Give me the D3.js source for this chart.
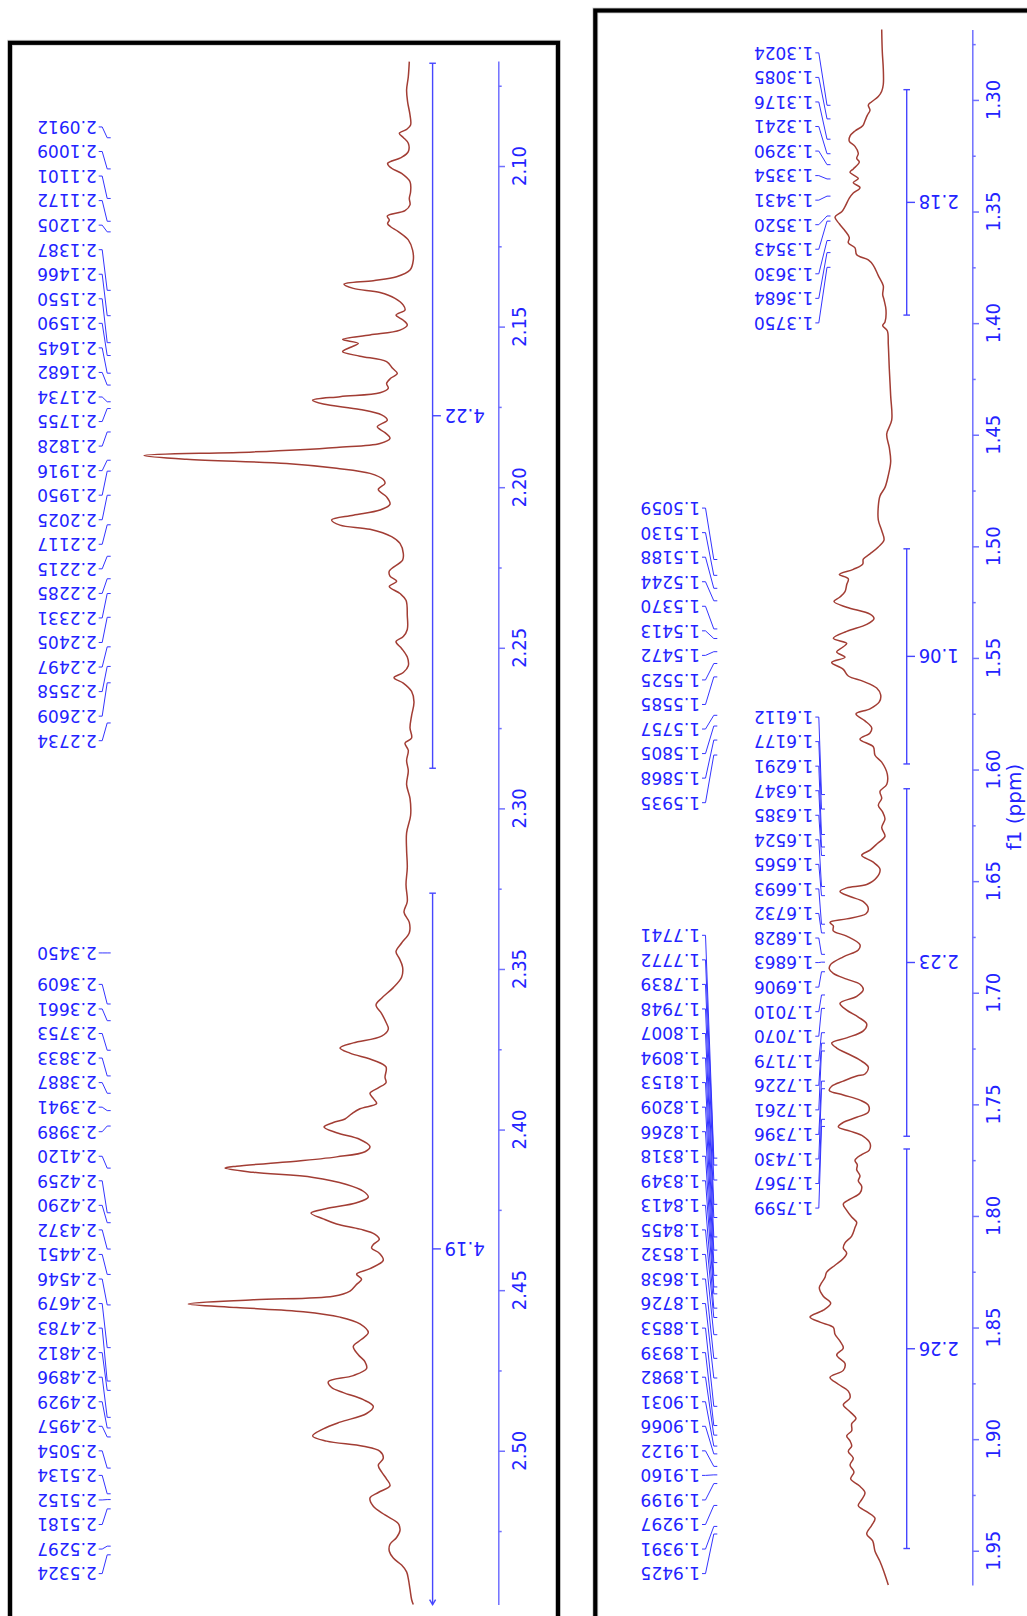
<!DOCTYPE html>
<html>
<head>
<meta charset="utf-8">
<script src="https://cdn.jsdelivr.net/npm/d3@7"></script>
<style>
  body { margin: 0; background: #fff; }
  svg { display: block; }
</style>
</head>
<body>
<div id="chart"></div>
<script>
// ---- data ----
// spectrum traces: [ppm, intensity (arbitrary units)]
const leftSpectrum = [
  [2.0675,-1],[2.0722,0],[2.0763,1.7],[2.0800,0.7],[2.0841,-1.7],[2.0872,-2.3],[2.0886,1.7],[2.0898,9],[2.0911,5],[2.0929,0],
  [2.0955,0],[2.0973,6.7],[2.0992,20.7],[2.1007,16.7],[2.1023,6.7],[2.1049,-1.7],[2.1080,-2.3],[2.1101,-1],[2.1121,-1.7],[2.1139,3.3],
  [2.1156,21],[2.1168,19],[2.1179,20.7],[2.1189,17.7],[2.1204,10],[2.1230,0],[2.1262,-4.3],[2.1293,-5],[2.1324,-1.7],[2.1345,11.7],
  [2.1357,35],[2.1368,64.3],[2.1381,55],[2.1394,28.3],[2.1412,13.3],[2.1433,5],[2.1448,3.3],[2.1464,12.3],[2.1480,5],[2.1495,1],
  [2.1511,8.3],[2.1526,38.3],[2.1540,65.7],[2.1552,50],[2.1565,58.3],[2.1578,65.7],[2.1592,48.3],[2.1609,21.7],[2.1630,15.7],[2.1646,11],
  [2.1661,17.7],[2.1677,21.7],[2.1692,20],[2.1706,28.3],[2.1718,68.3],[2.1729,95.7],[2.1741,85],[2.1758,48.3],[2.1775,26.7],[2.1791,21],
  [2.1812,31],[2.1830,23.3],[2.1848,18.3],[2.1864,28.3],[2.1876,71.7],[2.1890,155],[2.1901,264.3],[2.1913,221.7],[2.1926,121.7],[2.1941,71.7],
  [2.1957,38.3],[2.1976,25],[2.1988,23.3],[2.2007,30],[2.2030,21.7],[2.2053,18.3],[2.2071,28.3],[2.2087,55],[2.2102,76.7],[2.2118,68.3],
  [2.2131,38.3],[2.2154,16.7],[2.2175,8.3],[2.2206,5],[2.2227,5.7],[2.2261,19],[2.2277,18.3],[2.2293,11.7],[2.2309,19],[2.2331,8.3],
  [2.2352,2.3],[2.2400,1],[2.2443,1],[2.2465,5],[2.2481,12.3],[2.2502,6.7],[2.2529,1],[2.2556,0],[2.2577,5],[2.2593,14.3],
  [2.2610,5],[2.2636,-3.3],[2.2669,-5.7],[2.2711,-3.3],[2.2749,-1.7],[2.2781,-3.3],[2.2797,3.3],[2.2819,0],[2.2851,1.7],[2.2883,0],
  [2.2926,1.7],[2.2969,-1.7],[2.3022,-2.3],[2.3076,1.7],[2.3130,1.7],[2.3183,1],[2.3237,2.3],[2.3290,1],[2.3323,4.3],[2.3355,-1],
  [2.3387,-1],[2.3419,6.7],[2.3446,12.3],[2.3467,9],[2.3494,5.7],[2.3526,6.7],[2.3558,15],[2.3591,26.7],[2.3612,32.3],[2.3639,26.7],
  [2.3666,22.3],[2.3687,20],[2.3709,26.7],[2.3730,55],[2.3746,68.3],[2.3762,58.3],[2.3784,35],[2.3805,22.3],[2.3837,23.3],[2.3854,22.3],
  [2.3870,30],[2.3887,38.3],[2.3903,35],[2.3919,31.7],[2.3935,48.3],[2.3951,56.7],[2.3967,63.3],[2.3978,75],[2.3992,84.3],[2.4010,71.7],
  [2.4031,48.3],[2.4053,38.3],[2.4069,43.3],[2.4085,71.7],[2.4101,121.7],[2.4114,171.7],[2.4120,183.3],[2.4133,155],[2.4149,95],[2.4171,61.7],
  [2.4192,45],[2.4210,40],[2.4228,51.7],[2.4246,81.7],[2.4260,97.3],[2.4278,85],[2.4294,71.7],[2.4310,48.3],[2.4326,33.3],[2.4342,29],
  [2.4358,35],[2.4369,36.7],[2.4385,29],[2.4407,25],[2.4433,38.3],[2.4450,51.7],[2.4466,46.7],[2.4482,51.7],[2.4503,58.3],[2.4519,75],
  [2.4530,155],[2.4543,220],[2.4554,171.7],[2.4567,105],[2.4584,68.3],[2.4605,48.3],[2.4632,40],[2.4653,46.7],[2.4675,55],[2.4701,50],
  [2.4723,43.3],[2.4744,41.7],[2.4766,55],[2.4785,80],[2.4803,76.7],[2.4819,65],[2.4841,45],[2.4862,35],[2.4884,41.7],[2.4911,68.3],
  [2.4932,85],[2.4954,95.7],[2.4970,81.7],[2.4986,45],[2.5002,28.3],[2.5023,25],[2.5045,30],[2.5066,26.7],[2.5088,21.7],[2.5109,18.3],
  [2.5130,30],[2.5147,38.3],[2.5173,35],[2.5200,23.3],[2.5227,10],[2.5248,8.3],[2.5270,11.7],[2.5291,18.3],[2.5313,19],[2.5334,15],
  [2.5356,6.7],[2.5377,1.7],[2.5398,0],[2.5431,-1.7],[2.5463,-3.3],[2.5479,-5]
];

const rightSpectrum = [
  [1.2684,8.3],[1.2784,7.7],[1.2861,6.7],[1.2931,6.7],[1.2961,8.3],[1.2985,11.7],[1.3008,18.3],[1.3023,21.7],[1.3046,20],[1.3069,22.7],
  [1.3093,25],[1.3116,27.3],[1.3139,35],[1.3162,40],[1.3185,40.7],[1.3208,35],[1.3239,31.7],[1.3262,33.3],[1.3278,30.7],[1.3309,36.7],
  [1.3324,40],[1.3352,31.7],[1.3370,36.7],[1.3393,30],[1.3417,36.7],[1.3440,40.7],[1.3478,45],[1.3501,48.3],[1.3525,55],[1.3555,50.7],
  [1.3586,45],[1.3617,40.7],[1.3640,41.7],[1.3663,35],[1.3694,33.3],[1.3717,21.7],[1.3741,16.7],[1.3787,11.7],[1.3833,6.7],[1.3872,7.3],
  [1.3895,6],[1.3941,4],[1.3995,5],[1.4011,7.3],[1.4034,2.7],[1.4096,1.7],[1.4204,0.7],[1.4327,-0.7],[1.4435,-1.7],[1.4497,3.3],
  [1.4558,0.7],[1.4620,-0.7],[1.4682,1.7],[1.4736,5],[1.4774,10],[1.4821,11.7],[1.4882,11.7],[1.4929,8.3],[1.4972,6],[1.5003,11.7],
  [1.5034,20],[1.5057,26.7],[1.5080,27.3],[1.5103,36.7],[1.5126,50.7],[1.5145,41.7],[1.5172,43.3],[1.5203,45],[1.5227,50],[1.5247,56],
  [1.5273,43.3],[1.5304,20],[1.5324,16],[1.5350,23.3],[1.5381,43.3],[1.5412,56.7],[1.5435,43.3],[1.5450,46.7],[1.5473,53.3],[1.5497,45],
  [1.5520,58.3],[1.5551,46.7],[1.5581,41.7],[1.5605,26.7],[1.5635,13.3],[1.5666,9.3],[1.5697,10.7],[1.5728,20],[1.5751,34],[1.5782,25],
  [1.5813,18.3],[1.5836,20],[1.5864,30],[1.5898,16.7],[1.5936,15],[1.5967,8.3],[1.6021,2.7],[1.6067,3.3],[1.6098,10],[1.6129,8.3],
  [1.6160,11.7],[1.6191,7.3],[1.6222,5],[1.6260,8.3],[1.6299,5],[1.6330,12.3],[1.6361,20],[1.6384,28.3],[1.6415,16.7],[1.6446,10],
  [1.6484,13.3],[1.6515,23.3],[1.6530,43.3],[1.6546,50],[1.6569,40],[1.6592,26.7],[1.6623,21.7],[1.6646,24],[1.6669,43.3],[1.6685,60],
  [1.6700,56.7],[1.6723,56.7],[1.6746,43.3],[1.6785,30],[1.6808,31.7],[1.6839,46.7],[1.6873,59.3],[1.6893,60.7],[1.6913,56.7],[1.6939,43.3],
  [1.6962,30],[1.6986,26.7],[1.7016,33.3],[1.7047,50],[1.7078,43.3],[1.7109,31.7],[1.7140,23.3],[1.7171,26.7],[1.7202,43.3],[1.7225,58.3],
  [1.7248,53.3],[1.7271,43.3],[1.7302,30],[1.7333,21.7],[1.7364,25],[1.7373,33.3],[1.7396,46.7],[1.7419,58.3],[1.7438,60.7],[1.7458,46.7],
  [1.7481,30],[1.7504,21.7],[1.7535,21.7],[1.7558,33.3],[1.7581,46.7],[1.7601,51.7],[1.7620,40],[1.7643,26.7],[1.7674,20],[1.7705,20.7],
  [1.7725,28.3],[1.7751,35],[1.7771,32.7],[1.7793,33.3],[1.7820,30],[1.7843,31.7],[1.7867,28.3],[1.7897,30],[1.7925,40],[1.7947,46.7],
  [1.7975,43.3],[1.8005,38.3],[1.8029,33.3],[1.8052,35],[1.8090,38.3],[1.8121,45],[1.8144,46.7],[1.8167,43.3],[1.8191,46.7],[1.8221,55],
  [1.8252,63.3],[1.8275,65],[1.8299,68.3],[1.8322,70.7],[1.8360,66.7],[1.8391,59.3],[1.8422,66.7],[1.8453,80],[1.8476,70],[1.8499,56.7],
  [1.8530,55],[1.8561,50],[1.8592,46.7],[1.8623,53.3],[1.8661,45],[1.8692,46.7],[1.8723,60],[1.8754,51.7],[1.8785,41.7],[1.8815,40],
  [1.8846,46.7],[1.8877,40],[1.8908,34],[1.8931,38.3],[1.8962,38.3],[1.8985,43.3],[1.9008,40],[1.9031,38.3],[1.9055,41.7],[1.9085,36.7],
  [1.9116,40],[1.9147,36],[1.9178,39.3],[1.9209,30.7],[1.9240,25],[1.9271,28.3],[1.9298,31.7],[1.9325,23.3],[1.9355,15],[1.9386,18.3],
  [1.9425,23.3],[1.9456,17.3],[1.9502,15],[1.9548,10],[1.9595,6],[1.9653,1.7]
];

// picked peaks (ppm), one array per label group
const leftPeaks1 = [2.0912, 2.1009, 2.1101, 2.1172, 2.1205, 2.1387, 2.1466, 2.1550, 2.1590, 2.1645, 2.1682, 2.1734, 2.1755,
  2.1828, 2.1916, 2.1950, 2.2025, 2.2117, 2.2215, 2.2285, 2.2331, 2.2405, 2.2497, 2.2558, 2.2609, 2.2734];
const leftPeaks2 = [2.3450, 2.3609, 2.3661, 2.3753, 2.3833, 2.3887, 2.3941, 2.3989, 2.4120, 2.4259, 2.4290, 2.4372, 2.4451,
  2.4546, 2.4679, 2.4783, 2.4812, 2.4896, 2.4929, 2.4957, 2.5054, 2.5134, 2.5152, 2.5181, 2.5297, 2.5324];
const rightPeaksA = [1.3024, 1.3085, 1.3176, 1.3241, 1.3290, 1.3354, 1.3431, 1.3520, 1.3543, 1.3630, 1.3684, 1.3750];
const rightPeaksB = [1.5059, 1.5130, 1.5188, 1.5244, 1.5370, 1.5413, 1.5472, 1.5525, 1.5585, 1.5757, 1.5805, 1.5868, 1.5935];
const rightPeaksC = [1.6112, 1.6177, 1.6291, 1.6347, 1.6385, 1.6524, 1.6565, 1.6693, 1.6732, 1.6828, 1.6863, 1.6906, 1.7010,
  1.7070, 1.7179, 1.7226, 1.7261, 1.7396, 1.7430, 1.7567, 1.7599];
const rightPeaksD = [1.7741, 1.7772, 1.7839, 1.7948, 1.8007, 1.8094, 1.8153, 1.8209, 1.8266, 1.8318, 1.8349, 1.8413, 1.8455,
  1.8532, 1.8638, 1.8726, 1.8853, 1.8939, 1.8982, 1.9031, 1.9066, 1.9122, 1.9160, 1.9199, 1.9297, 1.9391, 1.9425];

// integrals: [from ppm, to ppm, value]
const leftIntegrals = [[2.0680, 2.2875, '4.22'], [2.3264, 2.5600, '4.19']];
const rightIntegrals = [[1.2954, 1.3964, '2.18'], [1.5011, 1.5975, '1.06'], [1.6086, 1.7643, '2.23'], [1.7700, 1.9490, '2.26']];

// axis ticks
const leftTicks = [2.10, 2.15, 2.20, 2.25, 2.30, 2.35, 2.40, 2.45, 2.50];
const leftMinor = [2.075, 2.125, 2.175, 2.225, 2.275, 2.325, 2.375, 2.425, 2.475, 2.525];
const rightTicks = [1.30, 1.35, 1.40, 1.45, 1.50, 1.55, 1.60, 1.65, 1.70, 1.75, 1.80, 1.85, 1.90, 1.95];
const rightMinor = [1.275, 1.325, 1.375, 1.425, 1.475, 1.525, 1.575, 1.625, 1.675, 1.725, 1.775, 1.825, 1.875, 1.925];
const axisTitle = 'f1 (ppm)';

// ---- layout ----
const W = 1027, H = 1616;
const blue = '#2323ff';
const axisBlue = '#7070ff';
const traceColor = '#a23d34';
const labelGap = 24.55;    // spacing between stacked peak labels
const labelBottom = 1573.6;

const svg = d3.select('#chart').append('svg')
  .attr('width', W)
  .attr('height', H);

svg.append('rect').attr('width', W).attr('height', H).attr('fill', '#fff');

// spread labels so they do not overlap, keeping each cluster centred on its peaks
function spreadLabels(ys, gap, lo, hi) {
  const clusters = [];
  const fix = c => {
    const n = c.idx.length;
    let s = d3.mean(c.idx, (k, j) => ys[k] - j * gap);
    s = Math.max(lo, Math.min(hi - (n - 1) * gap, s));
    c.start = s;
  };
  ys.forEach((y, i) => {
    clusters.push({ idx: [i], start: y });
    fix(clusters[clusters.length - 1]);
    while (clusters.length > 1) {
      const c = clusters[clusters.length - 1];
      const p = clusters[clusters.length - 2];
      if (p.start + p.idx.length * gap > c.start) {
        p.idx = p.idx.concat(c.idx);
        clusters.pop();
        fix(p);
      } else break;
    }
  });
  const out = new Array(ys.length);
  clusters.forEach(c => c.idx.forEach((k, j) => { out[k] = c.start + j * gap; }));
  return out;
}

function drawPanel(p) {
  const g = svg.append('g');

  // frame
  g.append('rect')
    .attr('x', p.frame[0]).attr('y', p.frame[1])
    .attr('width', p.frame[2]).attr('height', p.frame[3])
    .attr('fill', 'none').attr('stroke', '#d6d6d6').attr('stroke-width', 6);
  g.append('rect')
    .attr('x', p.frame[0]).attr('y', p.frame[1])
    .attr('width', p.frame[2]).attr('height', p.frame[3])
    .attr('fill', 'none').attr('stroke', '#000').attr('stroke-width', 4.2);

  const y = d3.scaleLinear().domain(p.ppmDomain).range(p.yRange);
  const x = d3.scaleLinear().domain([0, 100]).range([p.baseX, p.baseX - 100]);

  // ppm axis (vertical after rotation)
  const axisG = g.append('g').attr('transform', `translate(${p.axisX},0)`);
  axisG.call(d3.axisRight(y).tickValues(p.ticks).tickSize(6.7).tickSizeOuter(0).tickFormat(''));
  axisG.append('g').call(d3.axisRight(y).tickValues(p.minor).tickSize(3.4).tickSizeOuter(0).tickFormat(''))
    .select('.domain').remove();
  axisG.selectAll('path, line').attr('stroke', axisBlue).attr('stroke-width', 1.5);

  g.selectAll('text.tick-label').data(p.ticks).join('text')
    .attr('class', 'tick-label')
    .attr('transform', d => `translate(${p.axisX + 27.6},${y(d)}) rotate(-90)`)
    .attr('text-anchor', 'middle')
    .attr('font-family', 'DejaVu Sans Condensed, DejaVu Sans')
    .attr('font-stretch', 'condensed')
    .attr('font-size', 20)
    .attr('fill', blue)
    .text(d3.format('.2f'));

  if (p.title) {
    g.append('text')
      .attr('transform', `translate(${p.axisX + 49},${y(p.titleAt)}) rotate(-90)`)
      .attr('text-anchor', 'middle')
      .attr('font-family', 'DejaVu Sans')
      .attr('font-size', 20)
      .attr('fill', blue)
      .text(p.title);
  }

  // integrals
  const [lo, hi] = p.ppmDomain;
  p.integrals.forEach(([a, b, v]) => {
    const a1 = Math.max(a, lo), b1 = Math.min(b, hi);
    const ig = g.append('g').attr('stroke', '#4646ff').attr('stroke-width', 1.4).attr('fill', 'none');
    ig.append('line').attr('x1', p.intX).attr('x2', p.intX).attr('y1', y(a1)).attr('y2', y(b1));
    ig.append('line').attr('x1', p.intX - 3.3).attr('x2', p.intX + 3.3).attr('y1', y(a1)).attr('y2', y(a1));
    if (b > hi) {
      ig.append('path')
        .attr('d', d3.line()([[p.intX - 3, y(b1) - 5], [p.intX, y(b1)], [p.intX + 3, y(b1) - 5]]));
    } else {
      ig.append('line').attr('x1', p.intX - 3.3).attr('x2', p.intX + 3.3).attr('y1', y(b1)).attr('y2', y(b1));
    }
    const mid = (a1 + b1) / 2;
    ig.append('line').attr('x1', p.intX).attr('x2', p.intX + 8.3).attr('y1', y(mid)).attr('y2', y(mid));
    g.append('text')
      .attr('transform', `translate(${p.intX + 12},${y(mid)}) rotate(180)`)
      .attr('y', '0.36em')
      .attr('text-anchor', 'end')
      .attr('font-family', 'DejaVu Sans Condensed, DejaVu Sans')
      .attr('font-stretch', 'condensed')
      .attr('font-size', 20)
      .attr('fill', blue)
      .text(v);
  });

  // spectrum trace
  const line = d3.line()
    .x(d => x(d[1]))
    .y(d => y(d[0]))
    .curve(d3.curveCatmullRom.alpha(0.5));
  g.append('path')
    .datum(p.spectrum)
    .attr('fill', 'none')
    .attr('stroke', traceColor)
    .attr('stroke-width', 1.5)
    .attr('d', line);

  // peak labels, stacked per column
  const columns = d3.group(p.labels, d => d.col);
  columns.forEach(groups => {
    const items = [];
    groups.forEach(grp => grp.peaks.forEach(ppm => items.push({ ppm, grp })));
    items.sort((a, b) => a.ppm - b.ppm);
    const ys = spreadLabels(items.map(d => y(d.ppm)), labelGap, p.labelTop, labelBottom);
    items.forEach((d, i) => {
      const ly = ys[i], py = y(d.ppm), t = d.grp.textX, tip = d.grp.tipX;
      g.append('path')
        .attr('d', d3.line()([[t + 2, ly], [t + 5.5, ly], [tip - 3.5, py], [tip, py]]))
        .attr('fill', 'none')
        .attr('stroke', '#3434ff')
        .attr('stroke-width', 1);
      g.append('text')
        .attr('transform', `translate(${t},${ly}) rotate(180)`)
        .attr('y', '0.36em')
        .attr('text-anchor', 'start')
        .attr('font-family', 'DejaVu Sans')
        .attr('font-size', 17)
        .attr('fill', blue)
        .text(d3.format('.4f')(d.ppm));
    });
  });
}

drawPanel({
  frame: [10, 42.8, 548, 1700],
  ppmDomain: [2.0673, 2.5479],
  yRange: [61, 1604.6],
  baseX: 408.3,
  axisX: 498.3,
  ticks: leftTicks,
  minor: leftMinor,
  intX: 432.6,
  integrals: leftIntegrals,
  spectrum: leftSpectrum,
  labelTop: 80,
  labels: [
    { peaks: leftPeaks1, col: 0, textX: 96.7, tipX: 110.7 },
    { peaks: leftPeaks2, col: 0, textX: 96.7, tipX: 110.7 }
  ]
});

drawPanel({
  frame: [595.3, 10.5, 700, 1700],
  ppmDomain: [1.2684, 1.9653],
  yRange: [29.4, 1584.9],
  baseX: 890,
  axisX: 972.3,
  ticks: rightTicks,
  minor: rightMinor,
  intX: 906.7,
  integrals: rightIntegrals,
  spectrum: rightSpectrum,
  title: axisTitle,
  titleAt: 1.6168,
  labelTop: 40,
  labels: [
    { peaks: rightPeaksA, col: 0, textX: 813.3, tipX: 830.5 },
    { peaks: rightPeaksB, col: 1, textX: 700, tipX: 717.3 },
    { peaks: rightPeaksC, col: 0, textX: 813.3, tipX: 825 },
    { peaks: rightPeaksD, col: 1, textX: 700, tipX: 717.3 }
  ]
});
</script>
</body>
</html>
